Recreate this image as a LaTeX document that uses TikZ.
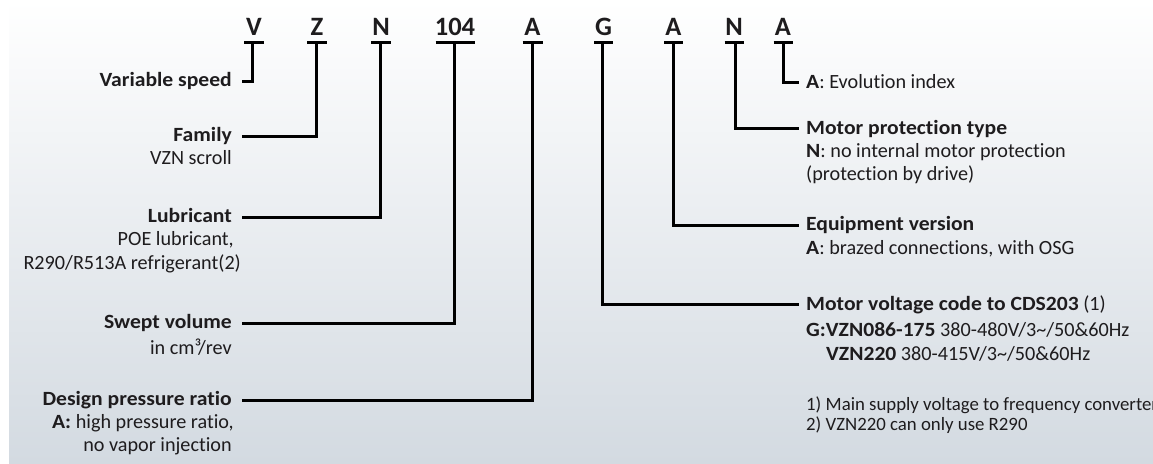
\documentclass[tikz,border=0pt]{standalone}
\usepackage{fontspec}
\setmainfont{Carlito}[Ligatures=NoCommon, BoldFeatures={FakeStretch=1.07}]
\newfontfamily\codefont{Carlito}
\usetikzlibrary{calc}
\definecolor{bgbot}{RGB}{211,218,225}
\definecolor{txt}{RGB}{30,28,30}
\begin{document}
\begin{tikzpicture}[x=1pt,y=-1pt,
  code/.style={font=\codefont\fontsize{26.5}{30}\selectfont\bfseries, inner sep=0pt, anchor=base, text=txt},
  lbl/.style={font=\fontsize{20.2}{24}\selectfont, inner sep=0pt, text=txt},
  lhead/.style={lbl, font=\fontsize{20.2}{24}\selectfont\bfseries},
  fnote/.style={lbl, font=\fontsize{18.8}{22}\selectfont},
  uline/.style={line width=3pt},
  conn/.style={line width=3pt, line join=miter}]
\useasboundingbox (0,0) rectangle (1153,463);
\clip (0,0) rectangle (1153,463);
\fill[white] (0,0) rectangle (1153,463);
\shade[top color=white, bottom color=bgbot] (9,0) rectangle (1153,463);

% code letters
\node[code] (cV)  at (254,35)   {V};
\node[code] (cZ)  at (317,35)   {Z};
\node[code] (cN)  at (381,35)   {N};
\node[code] (c104) at (455,35)  {104};
\node[code] (cA)  at (532.5,35) {A};
\node[code] (cG)  at (603.5,35) {G};
\node[code] (cA2) at (673.5,35) {A};
\node[code] (cN2) at (734,35)   {N};
\node[code] (cA3) at (783,35)   {A};

% underlines
\foreach \n/\w in {cV/10,cZ/10,cN/10,c104/19.5,cA/10,cG/9.5,cA2/9.5,cN2/9.5,cA3/9.5}
  \draw[uline] ($(\n.base)+(-\w,7)$) -- ($(\n.base)+(\w,7)$);

% connector end points
\coordinate (tV)  at (252.6,42);  \coordinate (eV)  at (242,81);
\coordinate (tZ)  at (316.9,42);  \coordinate (eZ)  at (242,136);
\coordinate (tN)  at (380.8,42);  \coordinate (eN)  at (242,217);
\coordinate (t104) at (454.7,42); \coordinate (e104) at (242,323);
\coordinate (tA)  at (532,42);    \coordinate (eA)  at (242,400.5);
\coordinate (tG)  at (602.7,42);  \coordinate (eG)  at (799,304.3);
\coordinate (tA2) at (673,42);    \coordinate (eA2) at (799,225);
\coordinate (tN2) at (735,42);    \coordinate (eN2) at (799,128);
\coordinate (tA3) at (783.3,42);  \coordinate (eA3) at (799,82.5);

\foreach \s in {V,Z,N,104,A,G,A2,N2,A3}
  \draw[conn] (t\s) |- (e\s);

% left labels
\node[lhead, anchor=base east] (lV) at (232,86) {Variable speed};
\node[lhead, anchor=base east] (lZ) at (232,141) {Family};
\node[lbl,   anchor=base east] (lZb) at (232,164) {VZN scroll};
\node[lhead, anchor=base east] (lN) at (232,222) {Lubricant};
\node[lbl,   anchor=base east] (lNb) at (234,245) {POE lubricant,};
\node[lbl,   anchor=base east] (lNc) at (241,269) {R290/R513A refrigerant(2)};
\node[lhead, anchor=base east] (l104) at (232,328) {Swept volume};
\node[lbl,   anchor=base east] (l104b) at (232,354) {in cm³/rev};
\node[lhead, anchor=base east] (lA) at (232,405.5) {Design pressure ratio};
\node[lbl,   anchor=base east] (lAb) at (234,428.5) {\textbf{A:} high pressure ratio,};
\node[lbl,   anchor=base east] (lAc) at (232,451) {no vapor injection};

% right labels
\node[lbl,   anchor=base west] (rA3) at (806,88) {\textbf{A}: Evolution index};
\node[lhead, anchor=base west] (rN2) at (806,134) {Motor protection type};
\node[lbl,   anchor=base west] (rN2b) at (806,157) {\textbf{N}: no internal motor protection};
\node[lbl,   anchor=base west] (rN2c) at (806,180) {(protection by drive)};
\node[lhead, anchor=base west] (rA2) at (806,230) {Equipment version};
\node[lbl,   anchor=base west] (rA2b) at (806,254) {\textbf{A}: brazed connections, with OSG};
\node[lbl,   anchor=base west] (rG) at (806,310) {\textbf{Motor voltage code to CDS203} (1)};
\node[lbl,   anchor=base west] (rGb) at (806,336) {\textbf{G:VZN086-175} 380-480V/3\textasciitilde/50\&60Hz};
\node[lbl,   anchor=base west] (rGc) at (826,360) {\textbf{VZN220} 380-415V/3\textasciitilde/50\&60Hz};
\node[fnote, anchor=base west] (f1) at (806,410) {1) Main supply voltage to frequency converter};
\node[fnote, anchor=base west] (f2) at (806,430) {2) VZN220 can only use R290};
\end{tikzpicture}
\end{document}
